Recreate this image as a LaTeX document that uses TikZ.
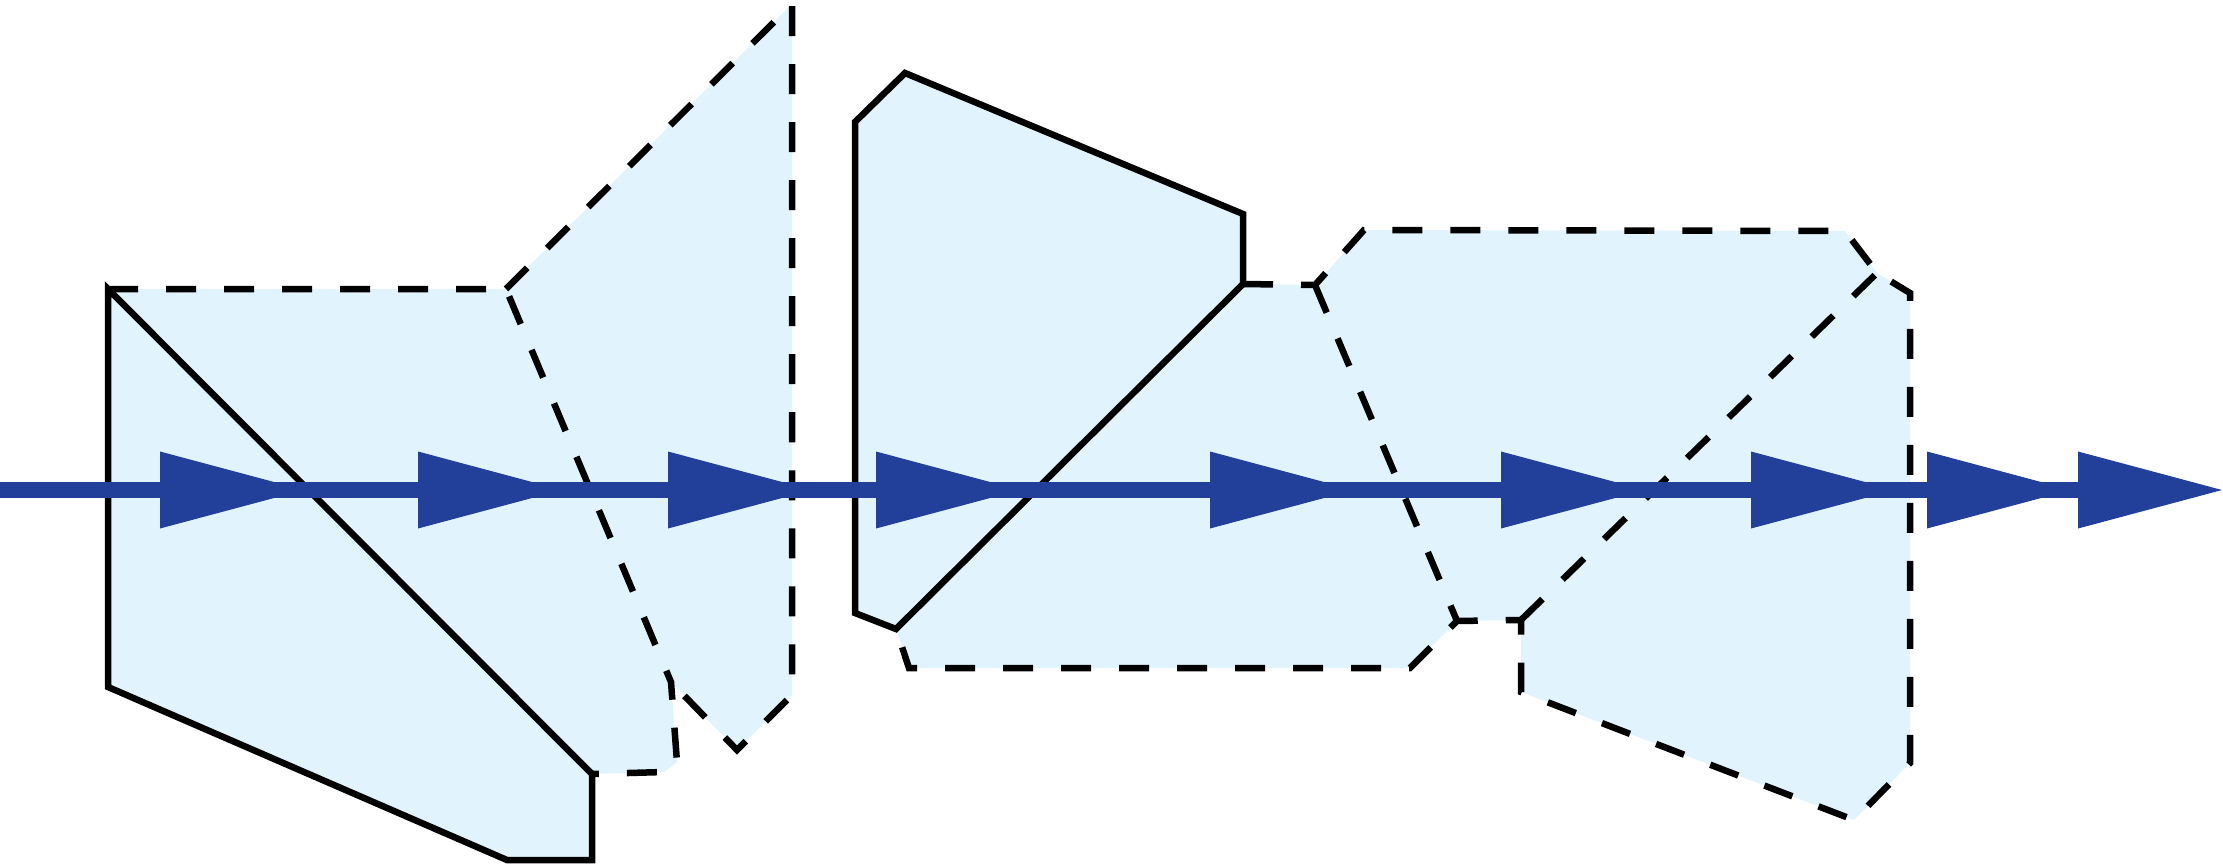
\documentclass[tikz,border=0pt]{standalone}
\usetikzlibrary{arrows.meta}

\definecolor{prismfill}{RGB}{225,243,252}
\definecolor{raycol}{RGB}{34,64,154}

\tikzset{
  prism/.style={draw=black, line width=1.85pt, line join=miter},
  ghost/.style={draw=black, line width=1.85pt, dash pattern=on 0.30cm off 0.28cm},
  rayline/.style={draw=raycol, line width=4.7pt},
  ray/.style={draw=raycol, line width=4.7pt,
    -{Triangle[length=1.44cm, width=0.77cm, line width=0pt]}}
}

\begin{document}
\begin{tikzpicture}[scale=1]

    % Fix the picture size
    \useasboundingbox (0,0) rectangle (22.23,8.65);

    % Left prism and its images
    \coordinate (P1) at (1.08,5.76);
    \coordinate (P2) at (1.08,1.78);
    \coordinate (P3) at (5.07,0.05);
    \coordinate (P4) at (5.92,0.05);
    \coordinate (P5) at (5.92,0.91);
    \coordinate (Q1) at (5.06,5.76);
    \coordinate (Q2) at (7.92,8.61);
    \coordinate (Q3) at (7.92,1.70);
    \coordinate (Q4) at (7.37,1.15);
    \coordinate (Q5) at (6.71,1.83);
    \coordinate (Q6) at (6.77,1.03);
    \coordinate (Q7) at (6.64,0.93);

    % Middle prism
    \coordinate (S1) at (8.55,7.43);
    \coordinate (S2) at (9.05,7.92);
    \coordinate (S3) at (12.43,6.51);
    \coordinate (S4) at (12.43,5.81);
    \coordinate (S5) at (8.96,2.36);
    \coordinate (S6) at (8.55,2.52);

    % Images of the middle prism
    \coordinate (R1) at (13.15,5.80);
    \coordinate (R2) at (13.64,6.35);
    \coordinate (R3) at (18.45,6.34);
    \coordinate (R4) at (18.77,5.92);
    \coordinate (R5) at (19.10,5.72);
    \coordinate (R6) at (19.10,1.02);
    \coordinate (R7) at (18.54,0.45);
    \coordinate (R8) at (15.21,1.73);
    \coordinate (R9) at (15.21,2.45);
    \coordinate (R10) at (14.57,2.44);
    \coordinate (R11) at (14.10,1.97);
    \coordinate (R12) at (9.09,1.97);

    % Fill the glass
    \fill[prismfill] (P1) -- (Q1) -- (Q2) -- (Q3) -- (Q4) -- (Q5) -- (Q6)
        -- (Q7) -- (P5) -- (P4) -- (P3) -- (P2) -- cycle;
    \fill[prismfill] (S1) -- (S2) -- (S3) -- (S4) -- (R1) -- (R2) -- (R3)
        -- (R4) -- (R5) -- (R6) -- (R7) -- (R8) -- (R9) -- (R10) -- (R11)
        -- (R12) -- (S5) -- (S6) -- cycle;

    % Dashed images
    \draw[ghost] (P1) -- (Q1) -- (Q5) -- (Q6) -- (Q7) -- (P5);
    \draw[ghost] (Q1) -- (Q2) -- (Q3) -- (Q4) -- (Q5);
    \draw[ghost] (S4) -- (R1) -- (R2) -- (R3) -- (R4) -- (R5) -- (R6)
        -- (R7) -- (R8) -- (R9) -- (R10) -- (R11) -- (R12) -- (S5);
    \draw[ghost] (R1) -- (R10);
    \draw[ghost] (R9) -- (R4);

    % Solid prisms
    \draw[prism] (P1) -- (P2) -- (P3) -- (P4) -- (P5) -- cycle;
    \draw[prism] (S1) -- (S2) -- (S3) -- (S4) -- (S5) -- (S6) -- cycle;

    % The ray and its arrows
    \coordinate (A0) at (0,3.75);
    \coordinate (A1) at (3.04,3.75);
    \coordinate (A2) at (5.62,3.75);
    \coordinate (A3) at (8.12,3.75);
    \coordinate (A4) at (10.20,3.75);
    \coordinate (A5) at (13.54,3.75);
    \coordinate (A6) at (16.45,3.75);
    \coordinate (A7) at (18.95,3.75);
    \coordinate (A8) at (20.71,3.75);
    \coordinate (A9) at (22.22,3.75);
    \coordinate (AE) at (21.88,3.75);
    \draw[rayline] (A0) -- (AE);
    \draw[ray] (A0) -- (A1);
    \draw[ray] (A1) -- (A2);
    \draw[ray] (A2) -- (A3);
    \draw[ray] (A3) -- (A4);
    \draw[ray] (A4) -- (A5);
    \draw[ray] (A5) -- (A6);
    \draw[ray] (A6) -- (A7);
    \draw[ray] (A7) -- (A8);
    \draw[ray] (A8) -- (A9);

\end{tikzpicture}
\end{document}
